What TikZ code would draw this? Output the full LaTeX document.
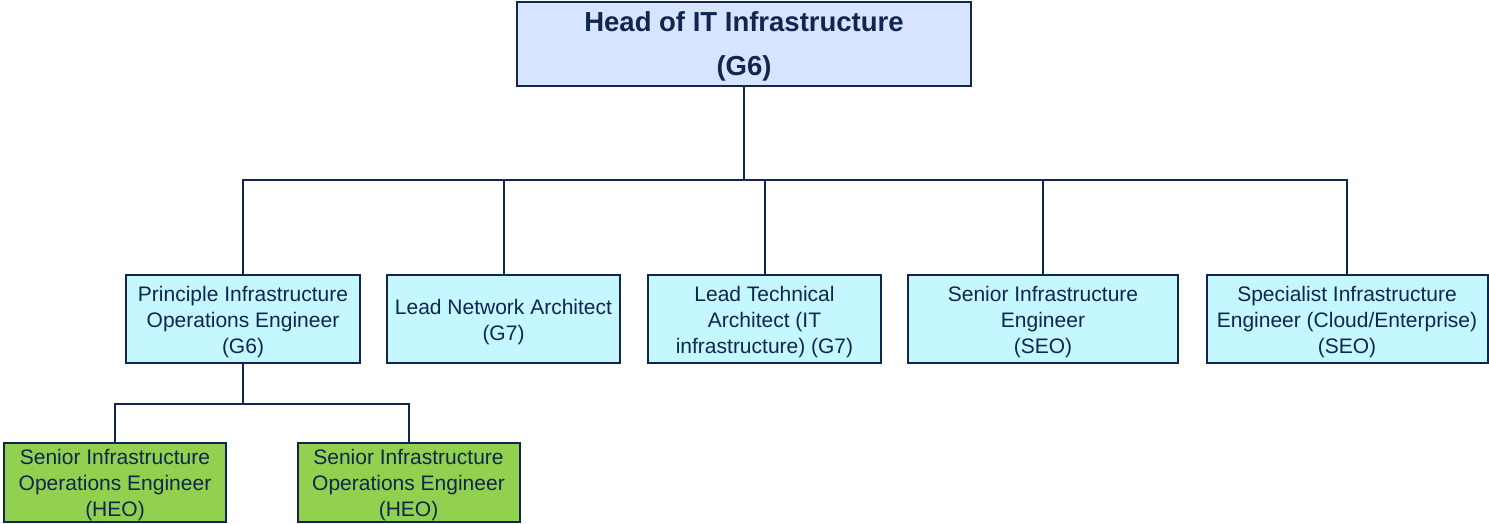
\documentclass[tikz,border=0pt]{standalone}
\usepackage{fontspec}
\setmainfont{Liberation Sans}
\definecolor{navy}{RGB}{16,38,78}
\definecolor{headfill}{RGB}{214,228,255}
\definecolor{midfill}{RGB}{196,247,255}
\definecolor{lowfill}{RGB}{146,208,80}
\newcommand{\tstrut}{\rule{0pt}{22pt}}
\begin{document}
\begin{tikzpicture}[x=1pt,y=-1pt,
  box/.style={draw=navy,line width=2pt,text=navy,align=center,inner sep=0pt,
    font=\fontsize{21}{26}\selectfont},
  headbox/.style={box,fill=headfill,minimum width=454pt,minimum height=84pt,
    font=\fontsize{27.5}{44}\selectfont\bfseries},
  midbox/.style={box,fill=midfill,minimum height=88pt},
  lowbox/.style={box,fill=lowfill,minimum width=222pt,minimum height=79pt},
  link/.style={draw=navy,line width=2pt}]
\useasboundingbox (0,0) rectangle (1489,523);
\node[headbox] (head) at (744,44) {\rule{0pt}{24pt}Head of IT Infrastructure\\(G6)};
\node[midbox,minimum width=234pt] (m1) at (243,319) {\tstrut Principle Infrastructure\\Operations Engineer\\(G6)};
\node[midbox,minimum width=233pt] (m2) at (503.5,319) {\tstrut Lead Network Architect\\(G7)};
\node[midbox,minimum width=233pt] (m3) at (764.5,319) {\tstrut Lead Technical\\Architect (IT\\infrastructure) (G7)};
\node[midbox,minimum width=270pt] (m4) at (1043,319) {\tstrut Senior Infrastructure\\Engineer\\(SEO)};
\node[midbox,minimum width=281pt] (m5) at (1347,319) {\tstrut Specialist Infrastructure\\Engineer (Cloud/Enterprise)\\(SEO)};
\node[lowbox] (l1) at (115,482) {\tstrut Senior Infrastructure\\Operations Engineer\\(HEO)};
\node[lowbox] (l2) at (408.5,482) {\tstrut Senior Infrastructure\\Operations Engineer\\(HEO)};
\coordinate (bus) at (744,180);
\coordinate (bus2) at (243,404);
\draw[link] (head.south) -- (bus);
\foreach \n in {m1,m2,m3,m4,m5}{\draw[link] (bus) -| (\n.north);}
\draw[link] (m1.south) -- (bus2);
\foreach \n in {l1,l2}{\draw[link] (bus2) -| (\n.north);}
\end{tikzpicture}
\end{document}
